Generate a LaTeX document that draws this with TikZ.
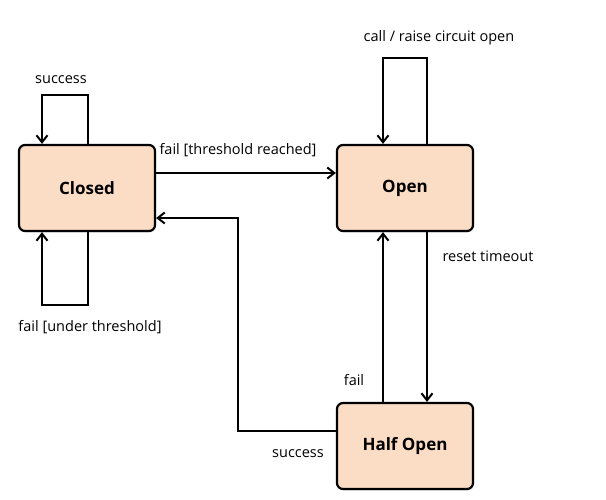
\documentclass[tikz,border=0pt]{standalone}
\usepackage{fontspec}
\setmainfont{Open Sans}
\usetikzlibrary{arrows.meta,shadows}
\definecolor{peach}{RGB}{251,221,197}
\tikzset{
  state/.style={draw=black, line width=2.2pt, fill=peach, rounded corners=6pt,
    minimum width=136pt, minimum height=86pt, font=\fontsize{17}{20}\selectfont\bfseries,
    drop shadow={opacity=0.2, shadow xshift=1pt, shadow yshift=-1.5pt}},
  trans/.style={line width=2pt, -{Straight Barb[length=7pt,width=11pt,line width=2pt]}},
  lbl/.style={font=\fontsize{14.5}{17}\selectfont}
}
\begin{document}
\begin{tikzpicture}[x=1pt,y=-1pt]
\useasboundingbox (0,0) rectangle (606,499);
\node[state] (closed) at (87,188) {Closed};
\node[state] (open) at (405,188) {Open};
\node[state] (half) at (405,446) {Half Open};

% closed loops
\coordinate (ct) at (88,95);
\coordinate (cb) at (88,305);
\draw[trans] ([xshift=1pt]closed.north) -- (ct) -| ([xshift=-45pt]closed.north);
\draw[trans] ([xshift=1pt]closed.south) -- (cb) -| ([xshift=-45pt]closed.south);
\node[lbl] (succtop) at (61,80) {success};
\node[lbl] (failunder) at (90,327) {fail [under threshold]};

% closed -> open
\draw[trans] ([yshift=15pt]closed.east) -- ([yshift=15pt]open.west);
\node[lbl] (failreach) at (238,150) {fail [threshold reached]};

% open loop
\coordinate (ot) at (427,58);
\draw[trans] ([xshift=22pt]open.north) -- (ot) -| ([xshift=-22pt]open.north);
\node[lbl] (calllbl) at (439,38) {call / raise circuit open};

% open <-> half open
\draw[trans] ([xshift=22pt]open.south) -- ([xshift=22pt]half.north);
\node[lbl] (resetlbl) at (488,256) {reset timeout};
\draw[trans] ([xshift=-22pt]half.north) -- ([xshift=-22pt]open.south);
\node[lbl] (faillbl) at (354,380) {fail};

% half open -> closed
\coordinate (sb) at (238,431);
\coordinate (st) at (238,218);
\draw[trans] ([yshift=15pt]half.west) -- (sb) -- (st) -- ([yshift=-30pt]closed.east);
\node[lbl] (succlbl) at (298,454) {success};
\end{tikzpicture}
\end{document}
